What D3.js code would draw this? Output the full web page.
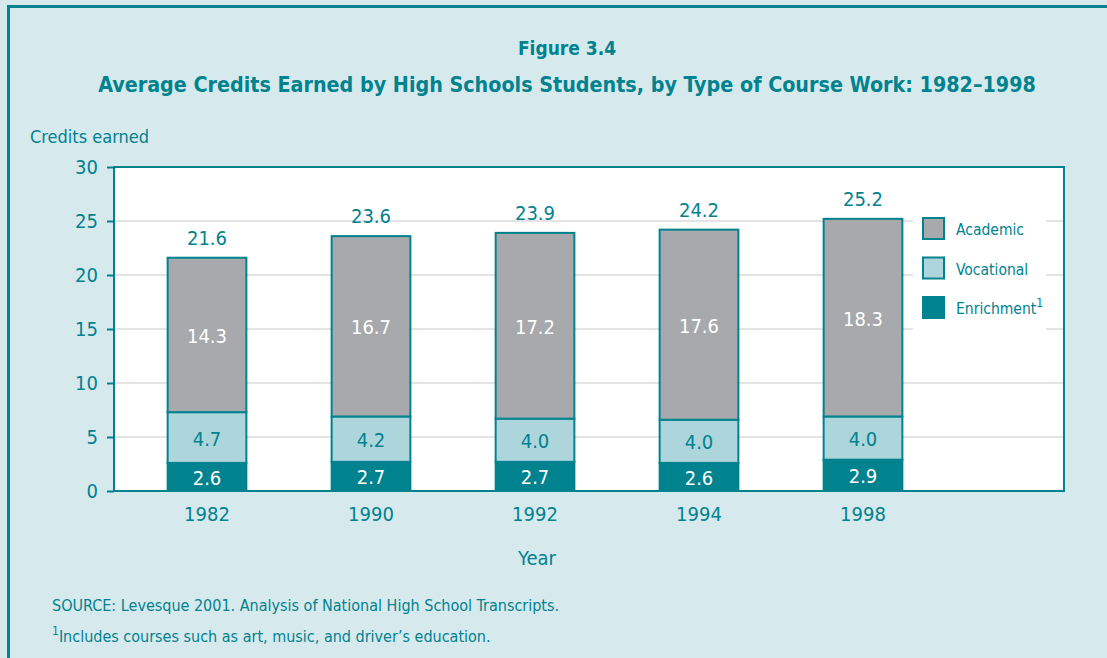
<!DOCTYPE html>
<html>
<head>
<meta charset="utf-8">
<script src="https://cdn.jsdelivr.net/npm/d3@7"></script>
<style>
  html, body { margin: 0; padding: 0; background: #d6e9ed; }
  svg { display: block; }
  text { font-family: "Liberation Sans Narrow", "DejaVu Sans Condensed", "Open Sans", sans-serif; fill: #00828f; }
</style>
</head>
<body>
<div id="chart-area"></div>
<script>
// data
var years = ['1982', '1990', '1992', '1994', '1998'];
var enrichment = [2.6, 2.7, 2.7, 2.6, 2.9];
var vocational = [4.7, 4.2, 4.0, 4.0, 4.0];
var academic = [14.3, 16.7, 17.2, 17.6, 18.3];
var totals = [21.6, 23.6, 23.9, 24.2, 25.2];
var yTicks = [0, 5, 10, 15, 20, 25, 30];
var seriesNames = ['Academic', 'Vocational', 'Enrichment'];

var teal = '#00828f', grey = '#a8a9ac', lightBlue = '#add5dc', bg = '#d6e9ed';

var W = 1107, H = 658;
var plot = { left: 114, top: 167, right: 1064, bottom: 491 };

var svg = d3.select('#chart-area').append('svg')
    .attr('width', W).attr('height', H);

// background + frame
svg.append('rect').attr('x', 0).attr('y', 0).attr('width', W).attr('height', H).attr('fill', bg);
svg.append('rect')
    .attr('x', 8.5).attr('y', 6.5).attr('width', W + 10).attr('height', H + 10)
    .attr('fill', 'none').attr('stroke', teal).attr('stroke-width', 3);

// titles
svg.append('text').attr('x', 567).attr('y', 55).attr('text-anchor', 'middle')
    .attr('font-size', '19px').attr('font-weight', 'bold')
    .text('Figure 3.4');
var title = svg.append('text').attr('x', 567).attr('y', 92).attr('text-anchor', 'middle')
    .attr('font-size', '24px').attr('font-weight', 'bold')
    .text('Average Credits Earned by High Schools Students, by Type of Course Work: 1982\u20131998');
// shrink the font if it came out wider than the original title
var tw = title.node().getComputedTextLength();
if (tw > 940) title.attr('font-size', (24 * 940 / tw).toFixed(1) + 'px');

svg.append('text').attr('x', 30).attr('y', 143)
    .attr('font-size', '18px')
    .text('Credits earned');

var y = d3.scaleLinear().domain([0, 30]).range([plot.bottom, plot.top]);
var x = d3.scaleBand().domain(years).range([125, 945])
    .paddingInner(0.52).paddingOuter(0.26);

// plot area
svg.append('rect')
    .attr('x', plot.left).attr('y', plot.top)
    .attr('width', plot.right - plot.left).attr('height', plot.bottom - plot.top)
    .attr('fill', '#fff');

// gridlines
svg.append('g').selectAll('line')
    .data(yTicks.filter(d => d > 0 && d < 30))
    .enter().append('line')
    .attr('x1', plot.left).attr('x2', plot.right)
    .attr('y1', d => y(d)).attr('y2', d => y(d))
    .attr('stroke', '#e4e4e4').attr('stroke-width', 2);

// y axis
var yAxis = d3.axisLeft(y).tickValues(yTicks).tickSize(7).tickPadding(9);
var yg = svg.append('g').attr('transform', 'translate(' + plot.left + ',0)').call(yAxis);
yg.select('.domain').remove();
yg.selectAll('line').attr('stroke', teal).attr('stroke-width', 2);
yg.selectAll('text').attr('font-size', '20px').attr('fill', teal)
    .attr('font-family', '"Liberation Sans Narrow", "DejaVu Sans Condensed", sans-serif');

// stacked bars
var rows = years.map((yr, i) => ({ year: yr, Enrichment: enrichment[i], Vocational: vocational[i], Academic: academic[i], total: totals[i] }));
var stack = d3.stack().keys(['Enrichment', 'Vocational', 'Academic'])(rows);
var fills = { Academic: grey, Vocational: lightBlue, Enrichment: teal };
var labelFill = { Academic: '#fff', Vocational: teal, Enrichment: '#fff' };

var layers = svg.append('g').selectAll('g').data(stack).enter().append('g');
layers.selectAll('rect').data(d => d.map(p => ({ key: d.key, p: p })))
    .enter().append('rect')
    .attr('x', d => x(d.p.data.year))
    .attr('width', x.bandwidth())
    .attr('y', d => y(d.p[1]))
    .attr('height', d => y(d.p[0]) - y(d.p[1]))
    .attr('fill', d => fills[d.key])
    .attr('stroke', teal).attr('stroke-width', 2);

layers.selectAll('text').data(d => d.map(p => ({ key: d.key, p: p })))
    .enter().append('text')
    .attr('x', d => x(d.p.data.year) + x.bandwidth() / 2)
    .attr('y', d => (y(d.p[0]) + y(d.p[1])) / 2 + 8)
    .attr('text-anchor', 'middle')
    .attr('font-size', '20px')
    .style('fill', d => labelFill[d.key])
    .text(d => d3.format('.1f')(d.p[1] - d.p[0]));

// totals
svg.append('g').selectAll('text').data(rows).enter().append('text')
    .attr('x', d => x(d.year) + x.bandwidth() / 2)
    .attr('y', d => y(d.total) - 13)
    .attr('text-anchor', 'middle')
    .attr('font-size', '20px')
    .text(d => d3.format('.1f')(d.total));

// plot frame
svg.append('rect')
    .attr('x', plot.left).attr('y', plot.top)
    .attr('width', plot.right - plot.left).attr('height', plot.bottom - plot.top)
    .attr('fill', 'none').attr('stroke', teal).attr('stroke-width', 2);

// x labels
svg.append('g').selectAll('text').data(years).enter().append('text')
    .attr('x', d => x(d) + x.bandwidth() / 2)
    .attr('y', 521)
    .attr('text-anchor', 'middle')
    .attr('font-size', '20px')
    .text(d => d);
svg.append('text').attr('x', 537).attr('y', 565).attr('text-anchor', 'middle')
    .attr('font-size', '20px').text('Year');

// legend
var legend = svg.append('g');
legend.append('rect').attr('x', 913).attr('y', 205).attr('width', 133).attr('height', 125).attr('fill', '#fff');
var lg = legend.selectAll('g').data(seriesNames).enter().append('g')
    .attr('transform', (d, i) => 'translate(922,' + (217 + i * 39.5) + ')');
lg.append('rect').attr('x', 1).attr('y', 1).attr('width', 21).attr('height', 21)
    .attr('fill', d => fills[d]).attr('stroke', teal).attr('stroke-width', 2);
var lt = lg.append('text').attr('x', 34).attr('y', 18).attr('font-size', '15.5px')
    .text(d => d);
lt.filter(d => d === 'Enrichment').append('tspan')
    .attr('font-size', '12px').attr('dy', -7).text('1');

// source + footnote
svg.append('text').attr('x', 52).attr('y', 611).attr('font-size', '16px')
    .text('SOURCE: Levesque 2001. Analysis of National High School Transcripts.');
var fn = svg.append('text').attr('x', 52).attr('y', 642).attr('font-size', '16px');
fn.append('tspan').attr('font-size', '12px').attr('dy', -7).text('1');
fn.append('tspan').attr('dy', 7).text('Includes courses such as art, music, and driver\u2019s education.');
</script>
</body>
</html>
